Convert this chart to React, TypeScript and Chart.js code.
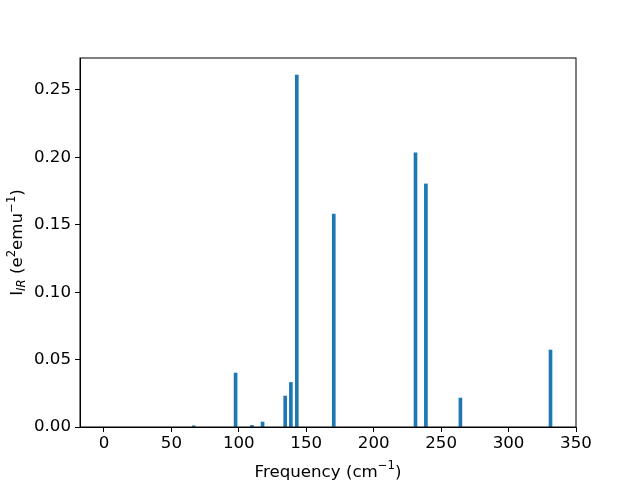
import React, { useEffect, useRef } from "react";
import { Chart, registerables } from "chart.js";

Chart.register(...registerables);

const frequencies = [66.6, 97.6, 109.7, 117.6, 134.4, 138.6, 143.0, 170.4, 231.0, 238.7, 264.3, 331.1];
const intensities = [0.0009, 0.040, 0.0012, 0.0037, 0.023, 0.033, 0.261, 0.158, 0.2033, 0.1803, 0.0215, 0.0571];
const xTickValues = [0, 50, 100, 150, 200, 250, 300, 350];
const yTickValues = [0, 0.05, 0.1, 0.15, 0.2, 0.25];

const FONT = "DejaVu Sans";
const BASE = 16.67;

type Seg = { t: string; s?: number; dy?: number; it?: boolean };

const xLabel: Seg[] = [
  { t: "Frequency (cm" },
  { t: "\u22121", s: 0.7, dy: -0.42 },
  { t: ")" },
];
const yLabel: Seg[] = [
  { t: "I" },
  { t: "IR", s: 0.7, dy: 0.2, it: true },
  { t: " (e" },
  { t: "2", s: 0.7, dy: -0.42 },
  { t: "emu" },
  { t: "\u22121", s: 0.7, dy: -0.42 },
  { t: ")" },
];

function drawRich(ctx: CanvasRenderingContext2D, segs: Seg[], cx: number, cy: number, rot: number) {
  ctx.save();
  ctx.translate(cx, cy);
  ctx.rotate(rot);
  ctx.fillStyle = "#000";
  ctx.textBaseline = "alphabetic";
  ctx.textAlign = "left";
  const fontOf = (g: Seg) => `${g.it ? "italic " : ""}${BASE * (g.s ?? 1)}px "${FONT}"`;
  let total = 0;
  for (const g of segs) {
    ctx.font = fontOf(g);
    total += ctx.measureText(g.t).width;
  }
  let x = -total / 2;
  for (const g of segs) {
    ctx.font = fontOf(g);
    ctx.fillText(g.t, x, (g.dy ?? 0) * BASE);
    x += ctx.measureText(g.t).width;
  }
  ctx.restore();
}

const framePlugin = {
  id: "frameAndLabels",
  afterDraw(chart: any) {
    const { ctx, chartArea } = chart;
    ctx.save();
    ctx.strokeStyle = "#000";
    ctx.lineWidth = 1;
    ctx.strokeRect(chartArea.left, chartArea.top, chartArea.right - chartArea.left, chartArea.bottom - chartArea.top);
    ctx.restore();
    drawRich(ctx, xLabel, (chartArea.left + chartArea.right) / 2, 476.5, 0);
    drawRich(ctx, yLabel, 22, (chartArea.top + chartArea.bottom) / 2, -Math.PI / 2);
  },
};

export default function App() {
  const ref = useRef<HTMLCanvasElement>(null);
  useEffect(() => {
    if (!ref.current) return;
    const tickFont = { family: FONT, size: BASE };
    const chart = new Chart(ref.current, {
      type: "bar",
      data: {
        datasets: [
          {
            data: frequencies.map((f, i) => ({ x: f, y: intensities[i] })),
            backgroundColor: "#1f77b4",
            borderWidth: 0,
            barThickness: 3,
          },
        ],
      },
      options: {
        responsive: false,
        animation: false,
        layout: { padding: { top: 58, right: 64, left: 0, bottom: 0 } },
        plugins: { legend: { display: false }, tooltip: { enabled: false } },
        scales: {
          x: {
            type: "linear",
            min: -17.75,
            max: 350,
            offset: false,
            afterBuildTicks: (s: any) => {
              s.ticks = xTickValues.map((v) => ({ value: v }));
            },
            afterFit: (s: any) => {
              s.height = 53;
            },
            grid: { offset: false, drawOnChartArea: false, drawTicks: true, tickLength: 5, tickColor: "#000", tickWidth: 1 },
            border: { display: true, color: "#000" },
            ticks: { font: tickFont, padding: 2, maxRotation: 0, autoSkip: false, color: "#000", callback: (v: any) => String(v) },
          },
          y: {
            type: "linear",
            min: 0,
            max: 0.2737,
            afterBuildTicks: (s: any) => {
              s.ticks = yTickValues.map((v) => ({ value: v }));
            },
            afterFit: (s: any) => {
              s.width = 80;
            },
            grid: { offset: false, drawOnChartArea: false, drawTicks: true, tickLength: 5, tickColor: "#000", tickWidth: 1 },
            border: { display: true, color: "#000" },
            ticks: { font: tickFont, padding: 4, autoSkip: false, color: "#000", callback: (v: any) => Number(v).toFixed(2) },
          },
        },
      },
      plugins: [framePlugin],
    });
    return () => chart.destroy();
  }, []);
  return (
    <div style={{ position: "fixed", left: 0, top: 0, width: 640, height: 480, background: "#fff" }}>
      <canvas ref={ref} width={640} height={480} style={{ display: "block" }} />
    </div>
  );
}
